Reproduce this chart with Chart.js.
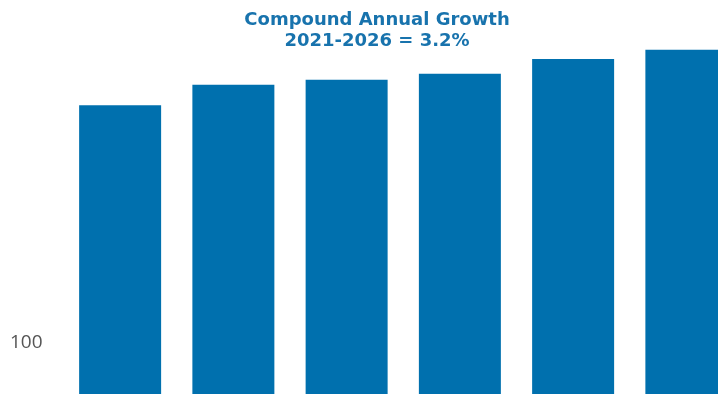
<!DOCTYPE html>
<html>
<head>
<meta charset="utf-8">
<script src="https://cdn.jsdelivr.net/npm/chart.js@4/dist/chart.umd.min.js"></script>
<style>
  html, body { margin: 0; padding: 0; background: #fff; overflow: hidden; }
  #wrap { position: relative; width: 743px; height: 394px; }
</style>
</head>
<body>
<div id="wrap"><canvas id="growthChart"></canvas></div>
<script>
// Données
const years = ['2021', '2022', '2023', '2024', '2025', '2026'];
const values = [377, 401, 407, 414, 431, 442];
const shownTicks = [100];
const titleLines = ['Compound Annual Growth', '2021-2026 = 3.2%'];

const barColor = '#0070ae';
const titleColor = '#1873ad';

// Titre dessiné au-dessus des barres
const titlePlugin = {
    id: 'cagrTitle',
    afterDraw(chart) {
        const ctx = chart.ctx;
        ctx.save();
        ctx.fillStyle = titleColor;
        ctx.font = 'bold 18px "DejaVu Sans", sans-serif';
        ctx.textAlign = 'center';
        ctx.textBaseline = 'alphabetic';
        ctx.fillText(titleLines[0], 377, 25);
        ctx.fillText(titleLines[1], 377, 46);
        ctx.restore();
    }
};

new Chart(document.getElementById('growthChart'), {
    type: 'bar',
    data: {
        labels: years,
        datasets: [{
            data: values,
            backgroundColor: barColor,
            borderWidth: 0,
            barPercentage: 0.724,
            categoryPercentage: 1
        }]
    },
    options: {
        responsive: true,
        maintainAspectRatio: false,
        animation: false,
        layout: { padding: 0 },
        plugins: {
            legend: { display: false },
            tooltip: { enabled: false },
            title: { display: false }
        },
        scales: {
            x: { display: false },
            y: {
                min: 40,
                max: 500,
                grid: { display: false, drawTicks: false },
                border: { display: false },
                afterBuildTicks: (scale) => {
                    scale.ticks = shownTicks.map(v => ({ value: v }));
                },
                afterFit: (scale) => {
                    scale.width = 63.5;
                    scale.paddingTop = 0;
                    scale.paddingBottom = 0;
                },
                ticks: {
                    padding: 21,
                    color: '#555555',
                    font: { family: '"Open Sans", sans-serif', size: 19, weight: 'normal' }
                }
            }
        }
    },
    plugins: [titlePlugin]
});
</script>
</body>
</html>
